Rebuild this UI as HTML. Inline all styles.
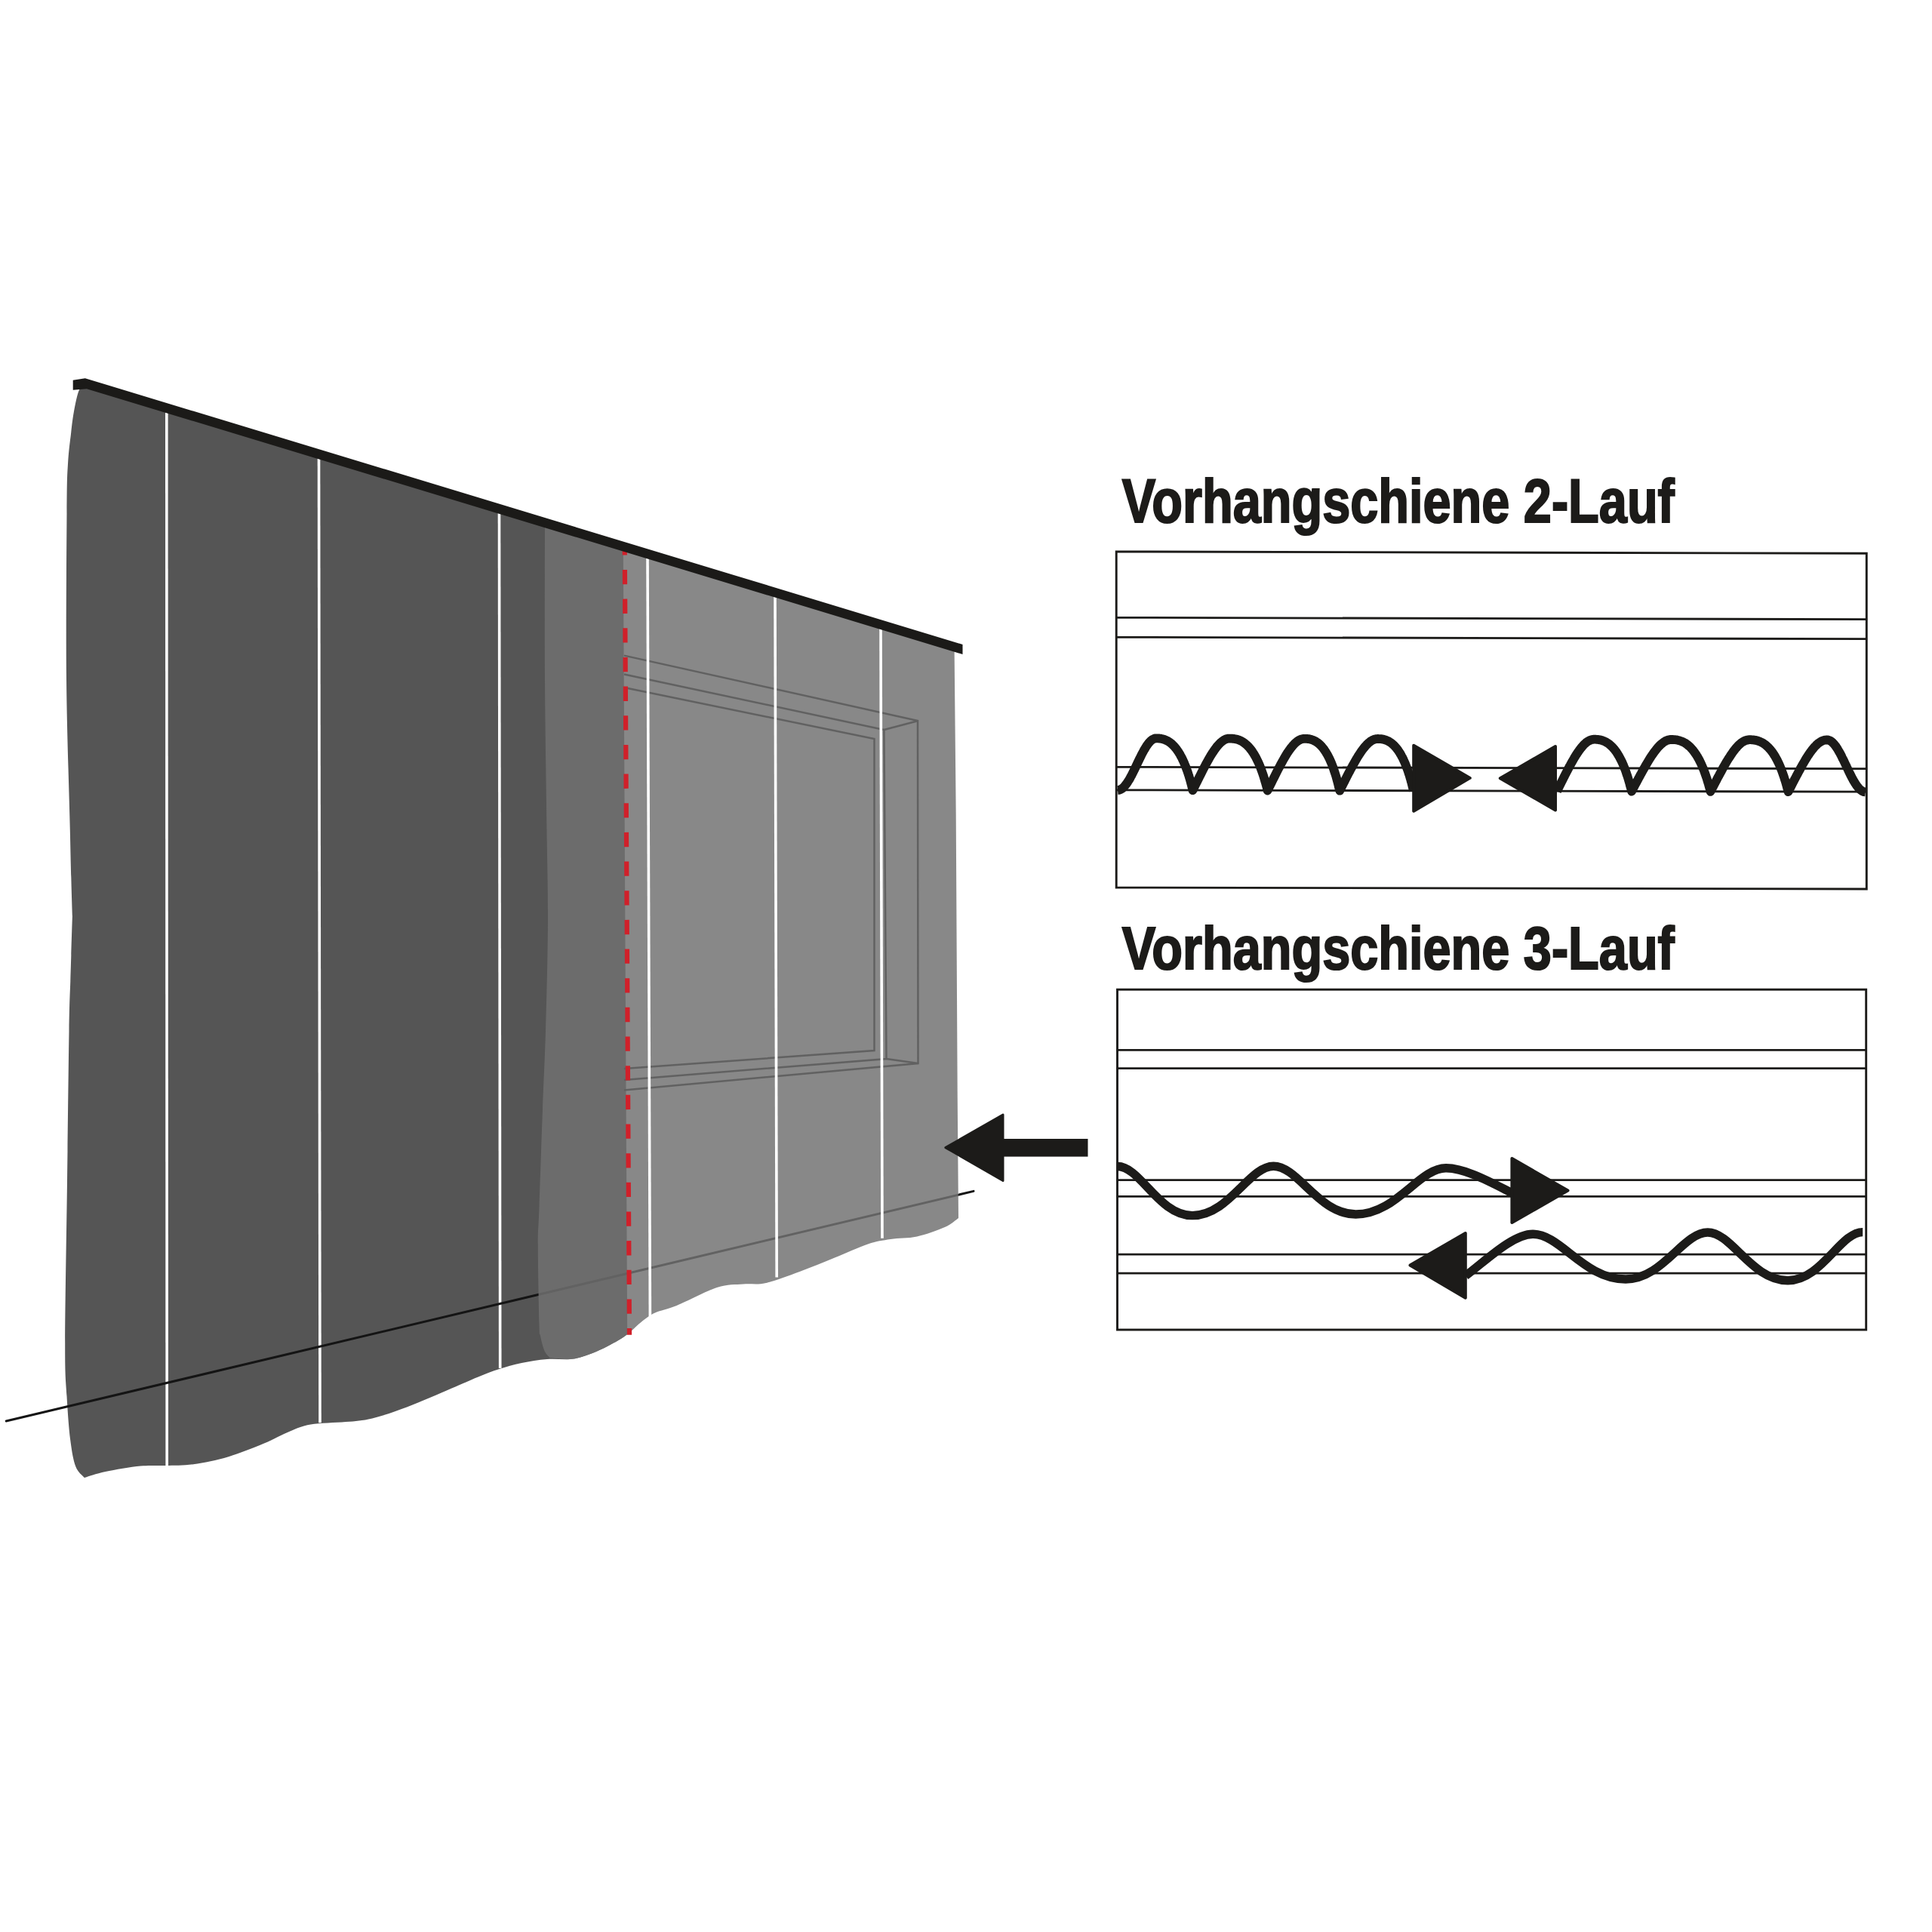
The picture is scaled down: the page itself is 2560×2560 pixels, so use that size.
<!DOCTYPE html><html><head><meta charset="utf-8"><style>html,body{margin:0;padding:0;background:#fff;width:2560px;height:2560px;overflow:hidden}svg{display:block}</style></head><body>
<svg width="2560" height="2560" viewBox="0 0 2560 2560">
<rect width="2560" height="2560" fill="#fff"/>
<path d="M834,1766 C831.5,1767.7 826.6,1771.8 819.3,1776 C812,1780.2 799.9,1786.9 790,1791 C780.1,1795.1 770.8,1798.8 760,1800.5 C749.2,1802.2 736.5,1800.1 725,1801 C713.5,1801.9 701.9,1803.8 691.2,1806 C680.5,1808.2 670.6,1811.1 660.9,1814.2 C651.2,1817.3 643.5,1820.4 633,1824.7 C622.5,1829 613.5,1833.2 598,1839.8 C582.5,1846.4 557.3,1857.7 539.8,1864.3 C522.3,1870.9 506.8,1876.1 493.2,1879.4 C479.6,1882.7 471.8,1882.8 458.2,1884.1 C444.6,1885.4 423.9,1885.4 411.6,1887.5 C399.3,1889.6 394.7,1892.3 384.3,1896.5 C373.9,1900.7 363,1907.2 349.4,1912.8 C335.8,1918.4 318.3,1925.6 302.8,1930.2 C287.3,1934.8 270.2,1938.2 256.2,1940.2 C242.2,1942.2 230.7,1941.6 219,1942 C207.3,1942.4 199.5,1941.2 186.3,1942.5 C173.1,1943.8 152.2,1947.4 139.8,1950 C127.4,1952.6 116.5,1956.7 111.8,1958 L111.8,1958 C109.9,1955.5 103.3,1951.3 100.2,1943 C97.1,1934.7 95.2,1923.5 93.2,1908 C91.2,1892.5 89.7,1871.3 88.5,1850 C87.3,1828.7 86.1,1827.3 86.2,1780 C86.3,1732.7 88.1,1635 89,1566 C89.9,1497 90.8,1410.3 91.5,1366 C92.2,1321.7 92.8,1316.7 93.3,1300 C93.8,1283.3 93.9,1280.3 94.3,1266 C94.7,1251.7 95.6,1222.7 95.9,1214 L95.9,1214 C95.6,1205.3 94.8,1181 94.3,1162 C93.8,1143 93.8,1143.7 92.8,1100 C91.8,1056.3 88.7,970 88,900 C87.3,830 88.2,727.6 88.5,680 C88.8,632.4 89,632.4 90,614.6 C91,596.8 92.9,584.8 94.2,573.2 C95.5,561.6 96.3,554.2 98,545 C99.7,535.8 102,524 104.5,517.8 C107,511.6 111.6,509.6 113,508 L825.8,722 L831.2,1766 Z" fill="#555555"/>
<line x1="220.8" y1="540" x2="221.2" y2="1942" stroke="#fff" stroke-width="3.6"/>
<line x1="422.5" y1="600" x2="424" y2="1885.3" stroke="#fff" stroke-width="3.6"/>
<line x1="661.5" y1="675" x2="662.7" y2="1813" stroke="#fff" stroke-width="3.6"/>
<line x1="8.2" y1="1883" x2="1290" y2="1578.4" stroke="#141414" stroke-width="3" stroke-linecap="round"/>
<path d="M714,690 L1276,861 L1264.6,861 L1266.7,1080 L1268.7,1450 L1270,1614 C1267,1616 1261.2,1621.9 1252,1626 C1242.8,1630.1 1227,1635.8 1215,1638.5 C1203,1641.2 1190.8,1640.3 1180,1642 C1169.2,1643.7 1162.3,1644.4 1150,1648.5 C1137.7,1652.6 1121.1,1660.4 1106,1666.5 C1090.9,1672.6 1074.8,1679.4 1059.6,1685 C1044.4,1690.6 1027.4,1697.2 1015,1700 C1002.6,1702.8 995.8,1700.5 985,1701.5 C974.2,1702.5 964.7,1701.2 950,1706 C935.3,1710.8 910.3,1724.4 896.6,1730 C882.9,1735.6 875.8,1735.9 868,1739.5 C860.2,1743.1 855.7,1747.1 850,1751.5 C844.3,1755.9 839.1,1761.9 834,1766 C828.9,1770.1 826.6,1771.8 819.3,1776 C812,1780.2 799.9,1786.9 790,1791 C780.1,1795.1 768.3,1799 760,1800.5 C751.7,1802 745.3,1800.5 740,1800.2 C734.7,1800 730.3,1799.2 728.4,1799 L728.4,1799 C727.2,1797.5 723.5,1794.6 721.4,1789.8 C719.3,1785 717.1,1775.8 716,1770 C714.9,1764.2 715,1774.8 714.5,1754.8 C714,1734.8 712.8,1675.8 712.8,1650 C712.8,1624.2 713.5,1630 714.5,1600 C715.5,1570 717.6,1509 719,1470 C720.4,1431 721.8,1407.7 723,1366 C724.2,1324.3 725.8,1264.3 726,1220 C726.2,1175.7 725.2,1153.3 724.5,1100 C723.8,1046.7 722.4,968 722,900 C721.6,832 722,726.7 722,692 Z" fill="#717171" fill-opacity="0.84"/>
<g fill="none" stroke="#616161" stroke-width="2.5" stroke-linejoin="miter">
<polyline points="827,868.6 1216,955 1216.5,1409 827,1444.5"/>
<polyline points="827,893.5 1171.4,967 1174.5,1403 827,1431"/>
<polyline points="827,911 1158.5,979 1158.5,1392 827,1416"/>
<line x1="1171.4" y1="967" x2="1216" y2="955.3"/>
<line x1="1174.5" y1="1403" x2="1216.5" y2="1409"/>
</g>
<line x1="858" y1="735" x2="861.4" y2="1745" stroke="#fff" stroke-width="3.6"/>
<line x1="1027" y1="785" x2="1029.2" y2="1692.5" stroke="#fff" stroke-width="3.6"/>
<line x1="1167" y1="828" x2="1169" y2="1640.8" stroke="#fff" stroke-width="3.6"/>
<line x1="827.7" y1="720.2" x2="834" y2="1768.7" stroke="#d0202a" stroke-width="6.2" stroke-dasharray="19.3 19.36" stroke-dashoffset="3.9"/>
<polygon points="96.7,503.8 112.8,501.2 1275.5,854 1275.5,867 114.9,515.2 96.7,516.7" fill="#1b1a18"/>
<polygon points="1252.9,1520.6 1329,1477 1329,1564.4" fill="#1c1b19" stroke="#1c1b19" stroke-width="3" stroke-linejoin="round"/>
<rect x="1325" y="1509" width="116.5" height="23.6" fill="#1c1b19"/>
<g font-family="Liberation Sans, sans-serif" font-weight="700" fill="#1c1b19" stroke="#1c1b19" stroke-width="2.2" stroke-linejoin="miter">
<text x="1486.8" y="692.1" font-size="81.2" textLength="732" lengthAdjust="spacingAndGlyphs">Vorhangschiene 2-Lauf</text>
<text x="1486.8" y="1284.4" font-size="80.6" textLength="732" lengthAdjust="spacingAndGlyphs">Vorhangschiene 3-Lauf</text>
</g>
<polygon points="1479.2,730.9 2473.3,733.3 2473.3,1178 1479.2,1176" fill="none" stroke="#1c1b19" stroke-width="2.9" stroke-linejoin="miter"/>
<line x1="1479.2" y1="818.3" x2="2473.3" y2="820.7" stroke="#1c1b19" stroke-width="2.8"/>
<line x1="1479.2" y1="844.3" x2="2473.3" y2="846.7" stroke="#1c1b19" stroke-width="2.8"/>
<line x1="1479.2" y1="1016.3" x2="2473.3" y2="1018.7" stroke="#1c1b19" stroke-width="2.8"/>
<line x1="1479.2" y1="1046.8" x2="2473.3" y2="1049.2" stroke="#1c1b19" stroke-width="2.8"/>
<rect x="1480.5" y="1311.2" width="992.2" height="450.8" fill="none" stroke="#1c1b19" stroke-width="2.9"/>
<line x1="1480.5" y1="1391.3" x2="2472.7" y2="1391.3" stroke="#1c1b19" stroke-width="2.8"/>
<line x1="1480.5" y1="1415.7" x2="2472.7" y2="1415.7" stroke="#1c1b19" stroke-width="2.8"/>
<line x1="1480.5" y1="1563.7" x2="2472.7" y2="1563.7" stroke="#1c1b19" stroke-width="2.8"/>
<line x1="1480.5" y1="1585.3" x2="2472.7" y2="1585.3" stroke="#1c1b19" stroke-width="2.8"/>
<line x1="1480.5" y1="1662.2" x2="2472.7" y2="1662.2" stroke="#1c1b19" stroke-width="2.8"/>
<line x1="1480.5" y1="1687.2" x2="2472.7" y2="1687.2" stroke="#1c1b19" stroke-width="2.8"/>
<g fill="none" stroke="#1c1b19" stroke-width="11.8" stroke-linejoin="round">
<path d="M1481.0,1047.0 L1482.1,1046.9 L1483.1,1046.7 L1484.2,1046.4 L1485.3,1045.8 L1486.3,1045.2 L1487.4,1044.4 L1488.5,1043.5 L1489.5,1042.4 L1490.6,1041.2 L1491.6,1039.9 L1492.7,1038.5 L1493.8,1037.0 L1494.8,1035.3 L1495.9,1033.6 L1497.0,1031.8 L1498.0,1029.8 L1499.1,1027.9 L1500.2,1025.8 L1501.2,1023.7 L1502.3,1021.6 L1503.4,1019.4 L1504.4,1017.2 L1505.5,1014.9 L1506.5,1012.7 L1507.6,1010.4 L1508.7,1008.2 L1509.7,1006.0 L1510.8,1003.8 L1511.9,1001.6 L1512.9,999.5 L1514.0,997.5 L1515.1,995.5 L1516.1,993.6 L1517.2,991.8 L1518.3,990.0 L1519.3,988.4 L1520.4,986.8 L1521.5,985.4 L1522.5,984.1 L1523.6,982.9 L1524.6,981.9 L1525.7,980.9 L1526.8,980.1 L1527.8,979.5 L1528.9,979.0 L1530.0,978.6 L1531.0,978.4 L1532.1,978.3 L1533.5,978.3 L1534.9,978.4 L1536.3,978.5 L1537.7,978.7 L1539.0,978.9 L1540.4,979.2 L1541.7,979.6 L1543.0,980.0 L1544.3,980.5 L1545.5,981.1 L1546.8,981.7 L1548.0,982.4 L1549.2,983.2 L1550.4,984.0 L1551.6,984.9 L1552.8,985.9 L1553.9,987.0 L1555.0,988.1 L1556.1,989.3 L1557.2,990.5 L1558.3,991.9 L1559.3,993.2 L1560.4,994.7 L1561.4,996.2 L1562.4,997.8 L1563.4,999.4 L1564.3,1001.2 L1565.3,1002.9 L1566.2,1004.7 L1567.1,1006.6 L1568.0,1008.5 L1568.9,1010.5 L1569.7,1012.5 L1570.6,1014.6 L1571.4,1016.7 L1572.2,1018.9 L1573.0,1021.1 L1573.8,1023.3 L1574.5,1025.6 L1575.3,1027.9 L1576.0,1030.3 L1576.7,1032.6 L1577.4,1035.0 L1578.0,1037.4 L1578.7,1039.9 L1579.3,1042.3 L1579.9,1044.8 L1580.5,1047.2 L1581.7,1044.8 L1582.9,1042.3 L1584.1,1039.9 L1585.3,1037.4 L1586.5,1035.0 L1587.7,1032.6 L1588.9,1030.3 L1590.0,1028.0 L1591.2,1025.7 L1592.3,1023.4 L1593.5,1021.1 L1594.6,1018.9 L1595.7,1016.8 L1596.8,1014.7 L1597.9,1012.6 L1599.0,1010.6 L1600.1,1008.6 L1601.2,1006.7 L1602.2,1004.8 L1603.3,1003.0 L1604.3,1001.2 L1605.4,999.5 L1606.4,997.9 L1607.5,996.3 L1608.5,994.8 L1609.5,993.4 L1610.5,992.0 L1611.5,990.7 L1612.4,989.4 L1613.4,988.2 L1614.4,987.1 L1615.3,986.1 L1616.3,985.1 L1617.2,984.2 L1618.2,983.3 L1619.1,982.6 L1620.0,981.9 L1620.9,981.3 L1621.8,980.7 L1622.7,980.2 L1623.6,979.8 L1624.4,979.4 L1625.3,979.1 L1626.2,978.9 L1627.0,978.7 L1627.8,978.6 L1628.7,978.6 L1629.5,978.6 L1631.0,978.6 L1632.4,978.6 L1633.9,978.8 L1635.3,978.9 L1636.7,979.2 L1638.1,979.5 L1639.4,979.8 L1640.8,980.3 L1642.1,980.8 L1643.4,981.3 L1644.7,981.9 L1646.0,982.6 L1647.2,983.4 L1648.5,984.3 L1649.7,985.2 L1650.9,986.2 L1652.1,987.2 L1653.2,988.3 L1654.4,989.5 L1655.5,990.8 L1656.6,992.1 L1657.7,993.5 L1658.8,994.9 L1659.8,996.5 L1660.8,998.0 L1661.9,999.7 L1662.9,1001.4 L1663.8,1003.1 L1664.8,1005.0 L1665.7,1006.8 L1666.7,1008.8 L1667.6,1010.7 L1668.5,1012.8 L1669.3,1014.9 L1670.2,1017.0 L1671.0,1019.1 L1671.8,1021.3 L1672.6,1023.6 L1673.4,1025.8 L1674.2,1028.2 L1674.9,1030.5 L1675.6,1032.9 L1676.3,1035.3 L1677.0,1037.7 L1677.7,1040.1 L1678.4,1042.5 L1679.0,1045.0 L1679.6,1047.5 L1680.8,1045.0 L1682.0,1042.6 L1683.3,1040.1 L1684.5,1037.7 L1685.6,1035.3 L1686.8,1032.9 L1688.0,1030.5 L1689.2,1028.2 L1690.3,1025.9 L1691.5,1023.6 L1692.6,1021.4 L1693.7,1019.2 L1694.9,1017.0 L1696.0,1014.9 L1697.1,1012.8 L1698.2,1010.8 L1699.3,1008.8 L1700.4,1006.9 L1701.4,1005.1 L1702.5,1003.2 L1703.5,1001.5 L1704.6,999.8 L1705.6,998.1 L1706.7,996.6 L1707.7,995.1 L1708.7,993.6 L1709.7,992.2 L1710.7,990.9 L1711.7,989.6 L1712.7,988.5 L1713.6,987.3 L1714.6,986.3 L1715.5,985.3 L1716.5,984.4 L1717.4,983.6 L1718.3,982.8 L1719.3,982.1 L1720.2,981.5 L1721.1,980.9 L1722.0,980.5 L1722.9,980.0 L1723.7,979.7 L1724.6,979.4 L1725.5,979.2 L1726.3,979.0 L1727.1,978.9 L1728.0,978.8 L1728.8,978.8 L1730.2,978.8 L1731.5,978.9 L1732.8,979.0 L1734.2,979.2 L1735.5,979.4 L1736.7,979.7 L1738.0,980.1 L1739.2,980.5 L1740.5,981.0 L1741.7,981.6 L1742.9,982.2 L1744.1,982.9 L1745.2,983.7 L1746.4,984.5 L1747.5,985.4 L1748.6,986.4 L1749.7,987.4 L1750.8,988.6 L1751.8,989.7 L1752.9,991.0 L1753.9,992.3 L1754.9,993.7 L1755.9,995.2 L1756.9,996.7 L1757.8,998.3 L1758.8,999.9 L1759.7,1001.6 L1760.6,1003.4 L1761.5,1005.2 L1762.4,1007.1 L1763.2,1009.0 L1764.1,1011.0 L1764.9,1013.0 L1765.7,1015.1 L1766.5,1017.2 L1767.3,1019.4 L1768.0,1021.6 L1768.7,1023.8 L1769.5,1026.1 L1770.2,1028.4 L1770.9,1030.7 L1771.5,1033.1 L1772.2,1035.5 L1772.8,1037.9 L1773.4,1040.3 L1774.0,1042.8 L1774.6,1045.2 L1775.2,1047.7 L1776.5,1045.2 L1777.7,1042.8 L1779.0,1040.3 L1780.2,1037.9 L1781.4,1035.5 L1782.6,1033.1 L1783.8,1030.8 L1785.0,1028.4 L1786.2,1026.1 L1787.4,1023.8 L1788.6,1021.6 L1789.7,1019.4 L1790.9,1017.3 L1792.0,1015.1 L1793.2,1013.1 L1794.3,1011.1 L1795.4,1009.1 L1796.5,1007.2 L1797.6,1005.3 L1798.7,1003.5 L1799.8,1001.7 L1800.9,1000.0 L1802.0,998.4 L1803.0,996.8 L1804.1,995.3 L1805.1,993.8 L1806.2,992.4 L1807.2,991.1 L1808.2,989.9 L1809.2,988.7 L1810.2,987.6 L1811.2,986.5 L1812.2,985.6 L1813.1,984.7 L1814.1,983.8 L1815.0,983.1 L1816.0,982.4 L1816.9,981.7 L1817.9,981.2 L1818.8,980.7 L1819.7,980.3 L1820.6,979.9 L1821.5,979.6 L1822.4,979.4 L1823.2,979.2 L1824.1,979.1 L1825.0,979.0 L1825.8,979.0 L1827.2,979.1 L1828.6,979.1 L1829.9,979.2 L1831.2,979.4 L1832.6,979.6 L1833.9,979.9 L1835.2,980.3 L1836.4,980.7 L1837.7,981.2 L1838.9,981.8 L1840.1,982.4 L1841.3,983.1 L1842.5,983.9 L1843.7,984.7 L1844.8,985.6 L1845.9,986.6 L1847.1,987.7 L1848.1,988.8 L1849.2,990.0 L1850.3,991.2 L1851.3,992.6 L1852.4,993.9 L1853.4,995.4 L1854.4,996.9 L1855.3,998.5 L1856.3,1000.1 L1857.2,1001.9 L1858.2,1003.6 L1859.1,1005.4 L1859.9,1007.3 L1860.8,1009.2 L1861.7,1011.2 L1862.5,1013.2 L1863.3,1015.3 L1864.1,1017.4 L1864.9,1019.6 L1865.7,1021.8 L1866.4,1024.0 L1867.2,1026.3 L1867.9,1028.6 L1868.6,1031.0 L1869.3,1033.3 L1869.9,1035.7 L1870.6,1038.1 L1871.2,1040.6 L1871.8,1043.0 L1872.4,1045.5 L1873.0,1047.9"/>
<path d="M2063.0,1048.4 L2064.2,1045.9 L2065.5,1043.5 L2066.7,1041.0 L2067.9,1038.6 L2069.1,1036.2 L2070.3,1033.8 L2071.5,1031.4 L2072.7,1029.1 L2073.8,1026.8 L2075.0,1024.5 L2076.1,1022.3 L2077.3,1020.1 L2078.4,1018.0 L2079.5,1015.8 L2080.7,1013.8 L2081.8,1011.7 L2082.9,1009.8 L2084.0,1007.8 L2085.1,1006.0 L2086.1,1004.2 L2087.2,1002.4 L2088.2,1000.7 L2089.3,999.1 L2090.3,997.5 L2091.4,996.0 L2092.4,994.5 L2093.4,993.1 L2094.4,991.8 L2095.4,990.6 L2096.4,989.4 L2097.4,988.3 L2098.3,987.2 L2099.3,986.2 L2100.3,985.3 L2101.2,984.5 L2102.1,983.7 L2103.1,983.0 L2104.0,982.4 L2104.9,981.9 L2105.8,981.4 L2106.7,981.0 L2107.6,980.6 L2108.5,980.3 L2109.3,980.1 L2110.2,979.9 L2111.0,979.8 L2111.9,979.7 L2112.7,979.7 L2114.1,979.7 L2115.6,979.8 L2117.0,979.9 L2118.4,980.1 L2119.8,980.3 L2121.1,980.6 L2122.5,981.0 L2123.8,981.4 L2125.1,981.9 L2126.4,982.5 L2127.7,983.1 L2128.9,983.8 L2130.1,984.6 L2131.4,985.4 L2132.6,986.3 L2133.7,987.3 L2134.9,988.4 L2136.0,989.5 L2137.2,990.7 L2138.3,991.9 L2139.4,993.2 L2140.4,994.6 L2141.5,996.1 L2142.5,997.6 L2143.5,999.2 L2144.5,1000.8 L2145.5,1002.5 L2146.5,1004.3 L2147.4,1006.1 L2148.4,1008.0 L2149.3,1009.9 L2150.2,1011.9 L2151.0,1013.9 L2151.9,1016.0 L2152.7,1018.1 L2153.6,1020.3 L2154.4,1022.5 L2155.1,1024.7 L2155.9,1027.0 L2156.7,1029.3 L2157.4,1031.7 L2158.1,1034.0 L2158.8,1036.4 L2159.5,1038.8 L2160.1,1041.3 L2160.8,1043.7 L2161.4,1046.2 L2162.0,1048.6 L2163.3,1046.2 L2164.6,1043.7 L2165.9,1041.3 L2167.2,1038.8 L2168.5,1036.4 L2169.8,1034.0 L2171.0,1031.7 L2172.3,1029.4 L2173.5,1027.0 L2174.8,1024.8 L2176.0,1022.5 L2177.2,1020.3 L2178.4,1018.2 L2179.6,1016.1 L2180.8,1014.0 L2182.0,1012.0 L2183.2,1010.0 L2184.3,1008.1 L2185.5,1006.2 L2186.6,1004.4 L2187.7,1002.6 L2188.9,1000.9 L2190.0,999.3 L2191.1,997.7 L2192.2,996.2 L2193.3,994.8 L2194.4,993.4 L2195.4,992.1 L2196.5,990.8 L2197.5,989.6 L2198.6,988.5 L2199.6,987.5 L2200.6,986.5 L2201.7,985.6 L2202.7,984.8 L2203.7,984.0 L2204.6,983.3 L2205.6,982.7 L2206.6,982.1 L2207.6,981.6 L2208.5,981.2 L2209.4,980.8 L2210.4,980.6 L2211.3,980.3 L2212.2,980.2 L2213.1,980.0 L2214.0,980.0 L2214.9,980.0 L2216.4,980.0 L2217.9,980.1 L2219.4,980.2 L2220.9,980.3 L2222.3,980.6 L2223.7,980.9 L2225.1,981.2 L2226.5,981.7 L2227.9,982.2 L2229.2,982.7 L2230.6,983.4 L2231.9,984.1 L2233.2,984.8 L2234.4,985.7 L2235.7,986.6 L2236.9,987.6 L2238.1,988.6 L2239.3,989.7 L2240.5,990.9 L2241.7,992.2 L2242.8,993.5 L2243.9,994.9 L2245.0,996.3 L2246.1,997.9 L2247.2,999.4 L2248.2,1001.1 L2249.3,1002.8 L2250.3,1004.6 L2251.3,1006.4 L2252.2,1008.3 L2253.2,1010.2 L2254.1,1012.2 L2255.0,1014.2 L2255.9,1016.3 L2256.8,1018.4 L2257.7,1020.5 L2258.5,1022.7 L2259.3,1025.0 L2260.1,1027.3 L2260.9,1029.6 L2261.7,1031.9 L2262.4,1034.3 L2263.1,1036.7 L2263.9,1039.1 L2264.5,1041.5 L2265.2,1044.0 L2265.9,1046.4 L2266.5,1048.9 L2267.8,1046.4 L2269.1,1044.0 L2270.4,1041.5 L2271.6,1039.1 L2272.9,1036.7 L2274.2,1034.3 L2275.4,1031.9 L2276.6,1029.6 L2277.9,1027.3 L2279.1,1025.0 L2280.3,1022.8 L2281.5,1020.6 L2282.7,1018.4 L2283.8,1016.3 L2285.0,1014.3 L2286.2,1012.2 L2287.3,1010.3 L2288.5,1008.3 L2289.6,1006.5 L2290.7,1004.7 L2291.9,1002.9 L2293.0,1001.2 L2294.1,999.6 L2295.2,998.0 L2296.2,996.5 L2297.3,995.0 L2298.4,993.6 L2299.4,992.3 L2300.5,991.1 L2301.5,989.9 L2302.5,988.8 L2303.5,987.7 L2304.6,986.7 L2305.6,985.8 L2306.5,985.0 L2307.5,984.2 L2308.5,983.5 L2309.5,982.9 L2310.4,982.4 L2311.4,981.9 L2312.3,981.4 L2313.2,981.1 L2314.1,980.8 L2315.1,980.6 L2316.0,980.4 L2316.8,980.3 L2317.7,980.2 L2318.6,980.2 L2320.1,980.2 L2321.6,980.3 L2323.0,980.4 L2324.5,980.6 L2325.9,980.8 L2327.3,981.1 L2328.7,981.5 L2330.1,981.9 L2331.4,982.4 L2332.7,983.0 L2334.0,983.6 L2335.3,984.3 L2336.6,985.1 L2337.9,985.9 L2339.1,986.8 L2340.3,987.8 L2341.5,988.9 L2342.7,990.0 L2343.9,991.2 L2345.0,992.4 L2346.1,993.7 L2347.2,995.1 L2348.3,996.6 L2349.4,998.1 L2350.4,999.7 L2351.5,1001.3 L2352.5,1003.0 L2353.5,1004.8 L2354.5,1006.6 L2355.4,1008.5 L2356.4,1010.4 L2357.3,1012.4 L2358.2,1014.4 L2359.1,1016.5 L2359.9,1018.6 L2360.8,1020.8 L2361.6,1023.0 L2362.4,1025.2 L2363.2,1027.5 L2364.0,1029.8 L2364.7,1032.2 L2365.5,1034.5 L2366.2,1036.9 L2366.9,1039.3 L2367.6,1041.8 L2368.2,1044.2 L2368.9,1046.7 L2369.5,1049.1 L2370.8,1046.7 L2372.1,1044.2 L2373.3,1041.8 L2374.6,1039.3 L2375.8,1036.9 L2377.0,1034.5 L2378.3,1032.2 L2379.5,1029.8 L2380.7,1027.5 L2381.9,1025.3 L2383.1,1023.0 L2384.3,1020.8 L2385.5,1018.7 L2386.6,1016.6 L2387.8,1014.5 L2388.9,1012.5 L2390.1,1010.5 L2391.2,1008.6 L2392.3,1006.7 L2393.4,1004.9 L2394.5,1003.1 L2395.6,1001.4 L2396.7,999.8 L2397.8,998.2 L2398.8,996.7 L2399.9,995.3 L2400.9,993.9 L2402.0,992.6 L2403.0,991.3 L2404.0,990.1 L2405.0,989.0 L2406.1,988.0 L2407.0,987.0 L2408.0,986.1 L2409.0,985.2 L2410.0,984.5 L2410.9,983.8 L2411.9,983.2 L2412.8,982.6 L2413.8,982.1 L2414.7,981.7 L2415.6,981.3 L2416.5,981.0 L2417.4,980.8 L2418.3,980.6 L2419.2,980.5 L2420.0,980.5 L2420.9,980.5 L2422.0,980.5 L2423.0,980.8 L2424.1,981.1 L2425.1,981.6 L2426.2,982.3 L2427.3,983.1 L2428.3,984.0 L2429.4,985.1 L2430.4,986.3 L2431.5,987.6 L2432.6,989.0 L2433.6,990.6 L2434.7,992.2 L2435.7,994.0 L2436.8,995.8 L2437.9,997.7 L2438.9,999.7 L2440.0,1001.7 L2441.0,1003.9 L2442.1,1006.0 L2443.2,1008.2 L2444.2,1010.4 L2445.3,1012.7 L2446.4,1014.9 L2447.4,1017.2 L2448.5,1019.4 L2449.5,1021.6 L2450.6,1023.8 L2451.7,1026.0 L2452.7,1028.1 L2453.8,1030.2 L2454.8,1032.1 L2455.9,1034.1 L2457.0,1035.9 L2458.0,1037.6 L2459.1,1039.3 L2460.1,1040.8 L2461.2,1042.2 L2462.3,1043.6 L2463.3,1044.8 L2464.4,1045.8 L2465.4,1046.7 L2466.5,1047.5 L2467.6,1048.2 L2468.6,1048.7 L2469.7,1049.1 L2470.7,1049.3 L2471.8,1049.4"/>
</g>
<polygon points="1873.2,987.8 1947.8,1030.9 1873.2,1074.7" fill="#1c1b19" stroke="#1c1b19" stroke-width="4" stroke-linejoin="round"/>
<polygon points="2061,989.1 1987.8,1031.3 2061,1073.5" fill="#1c1b19" stroke="#1c1b19" stroke-width="4" stroke-linejoin="round"/>
<g fill="none" stroke="#1c1b19" stroke-width="11.4">
<path d="M1481,1545.5 C1510.7,1545.5 1535.5,1610.6 1580,1610.6 C1628.3,1610.6 1655.2,1545.2 1687.4,1545.2 C1720.1,1545.2 1747.4,1609 1796.4,1609 C1850.2,1609 1880.1,1547.8 1916,1547.8 C1942.4,1547.8 1977.6,1567.8 2004,1581 "/>
<path d="M1942,1690.5 C1968.8,1670.4 2004.4,1635.3 2031.2,1635.3 C2068.1,1635.3 2098.8,1695 2154.1,1695 C2203,1695 2230.2,1633 2262.8,1633 C2294.7,1633 2321.2,1696.7 2369,1696.7 C2413.6,1696.7 2438.4,1632.6 2468.2,1632.6 "/>
</g>
<polygon points="2003.4,1535.1 2077.5,1577.6 2003.4,1620" fill="#1c1b19" stroke="#1c1b19" stroke-width="4" stroke-linejoin="round"/>
<polygon points="1941.8,1634.1 1868.4,1676.6 1941.8,1719.7" fill="#1c1b19" stroke="#1c1b19" stroke-width="4" stroke-linejoin="round"/>
</svg></body></html>
